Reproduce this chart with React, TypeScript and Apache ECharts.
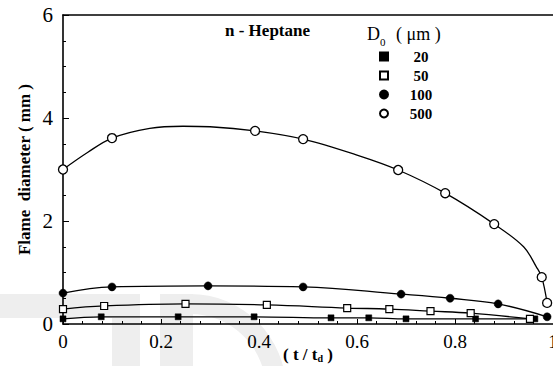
import React, { useEffect, useRef } from 'react';
import * as echarts from 'echarts';

const FONT = "'Liberation Serif', 'Times New Roman', Times, serif";

// D0 = 20 µm (filled squares)
const t20 = [0, 0.078, 0.235, 0.39, 0.547, 0.624, 0.7, 0.842, 0.963];
const d20 = [0.1, 0.14, 0.14, 0.14, 0.12, 0.12, 0.1, 0.1, 0.1];
// D0 = 50 µm (open squares)
const t50 = [0, 0.084, 0.25, 0.416, 0.58, 0.666, 0.75, 0.832, 0.953];
const d50 = [0.29, 0.35, 0.39, 0.37, 0.31, 0.29, 0.25, 0.21, 0.1];
// D0 = 100 µm (filled circles)
const t100 = [0, 0.1, 0.296, 0.49, 0.69, 0.79, 0.888, 0.988];
const d100 = [0.6, 0.72, 0.74, 0.72, 0.58, 0.5, 0.39, 0.14];
// D0 = 500 µm (open circles)
const t500 = [0, 0.1, 0.392, 0.49, 0.684, 0.78, 0.88, 0.977, 0.988];
const d500 = [3.0, 3.61, 3.75, 3.59, 2.99, 2.54, 1.94, 0.91, 0.41];
// fitted curve for 500 µm
const t500Fit = [0, 0.05, 0.1, 0.177, 0.245, 0.3, 0.392, 0.49, 0.6, 0.684, 0.78, 0.88, 0.94, 0.966, 0.977, 0.988];
const d500Fit = [3.0, 3.33, 3.61, 3.8, 3.84, 3.83, 3.75, 3.59, 3.28, 2.99, 2.54, 1.94, 1.5, 1.11, 0.91, 0.41];

const legendNames = ['20', '50', '100', '500'];

const pairs = (xs: number[], ys: number[]) => xs.map((x, i) => [x, ys[i]]);

export default function App() {
  const ref = useRef<HTMLDivElement>(null);
  useEffect(() => {
    const chart = echarts.init(ref.current!, null, { renderer: 'svg' });
    const lineBase = {
      type: 'line',
      showSymbol: false,
      symbol: 'none',
      smooth: 0.4,
      lineStyle: { color: '#000', width: 1.3 },
      silent: true,
      z: 2,
    };
    const gray = '#eeeeee';
    chart.setOption({
      animation: false,
      backgroundColor: '#fff',
      grid: { left: 63, right: 0, top: 15, bottom: 42, outerBoundsMode: 'none', containLabel: false },
      title: {
        text: 'n - Heptane',
        left: 225,
        top: 22,
        padding: 0,
        textStyle: { fontFamily: FONT, fontWeight: 'bold', fontSize: 17, color: '#000' },
      },
      legend: {
        data: legendNames,
        orient: 'vertical',
        left: 379,
        top: 49,
        padding: 0,
        itemWidth: 8,
        itemHeight: 8,
        itemGap: 4,
        selectedMode: false,
        formatter: (n: string) => `{a|${n}}`,
        textStyle: {
          rich: {
            a: { fontFamily: FONT, fontWeight: 'bold', fontSize: 15, color: '#000', width: 56, align: 'center', lineHeight: 16 },
          },
        },
      },
      graphic: [
        { type: 'rect', z: -1, silent: true, shape: { x: 0, y: 294, width: 140, height: 24 }, style: { fill: gray } },
        { type: 'rect', z: -1, silent: true, shape: { x: 112, y: 294, width: 28, height: 72 }, style: { fill: gray } },
        { type: 'rect', z: -1, silent: true, shape: { x: 160, y: 294, width: 33, height: 72 }, style: { fill: gray } },
        { type: 'rect', z: -1, silent: true, shape: { x: 160, y: 294, width: 32, height: 20 }, style: { fill: gray } },
        { type: 'sector', z: -1, silent: true, shape: { cx: 190, cy: 390, r0: 76, r: 96, startAngle: -Math.PI / 2, endAngle: 0 }, style: { fill: gray } },
        { type: 'text', left: 367, top: 25, style: { text: 'D', font: `18px ${FONT}`, fill: '#000' } },
        { type: 'text', left: 380, top: 36, style: { text: '0', font: `11px ${FONT}`, fill: '#000' } },
        { type: 'text', left: 396, top: 25, style: { text: '( μm )', font: `18px ${FONT}`, fill: '#000' } },
      ],
      xAxis: [
        {
          type: 'value',
          min: 0,
          max: 1,
          interval: 0.2,
          axisLine: { show: true, onZero: false, lineStyle: { color: '#000', width: 1.6 } },
          axisTick: { show: true, inside: true, length: 5, lineStyle: { color: '#000', width: 1 } },
          minorTick: { show: true, splitNumber: 5, length: 3, lineStyle: { color: '#000', width: 1 } },
          splitLine: { show: false },
          axisLabel: { color: '#000', fontSize: 19, fontFamily: FONT, margin: 8 },
          name: '( t / t{s|d} )',
          nameLocation: 'middle',
          nameGap: 22,
          nameMoveOverlap: false,
          nameTextStyle: {
            fontFamily: FONT,
            fontWeight: 'bold',
            fontSize: 17,
            color: '#000',
            rich: {
              s: { fontFamily: FONT, fontWeight: 'bold', fontSize: 10, color: '#000', verticalAlign: 'bottom', padding: [6, 0, 0, 0] },
            },
          },
        },
        {
          type: 'value',
          position: 'top',
          min: 0,
          max: 1,
          axisLine: { show: true, onZero: false, lineStyle: { color: '#000', width: 1.6 } },
          axisTick: { show: false },
          axisLabel: { show: false },
          splitLine: { show: false },
        },
      ],
      yAxis: {
        type: 'value',
        min: 0,
        max: 6,
        interval: 2,
        axisLine: { show: true, onZero: false, lineStyle: { color: '#000', width: 1.6 } },
        axisTick: { show: true, inside: true, length: 6, lineStyle: { color: '#000', width: 1 } },
        minorTick: { show: true, splitNumber: 4, length: 3, lineStyle: { color: '#000', width: 1 } },
        splitLine: { show: false },
        axisLabel: { color: '#000', fontSize: 21, fontFamily: FONT, margin: 10 },
        name: 'Flame  diameter ( mm )',
        nameLocation: 'middle',
        nameGap: 30,
        nameMoveOverlap: false,
        nameTextStyle: { fontFamily: FONT, fontWeight: 'bold', fontSize: 17, color: '#000' },
      },
      series: [
        { ...lineBase, name: 'fit20', data: pairs(t20, d20) },
        { ...lineBase, name: 'fit50', data: pairs(t50, d50) },
        { ...lineBase, name: 'fit100', data: pairs(t100, d100) },
        { ...lineBase, name: 'fit500', data: pairs(t500Fit, d500Fit), smooth: 0.35 },
        {
          type: 'scatter', name: '20', symbol: 'rect', symbolSize: 6, z: 3,
          itemStyle: { color: '#000', borderColor: '#000', borderWidth: 0.5, opacity: 1 },
          data: pairs(t20, d20),
        },
        {
          type: 'scatter', name: '50', symbol: 'rect', symbolSize: 7, z: 3,
          itemStyle: { color: '#fff', borderColor: '#000', borderWidth: 1.2, opacity: 1 },
          data: pairs(t50, d50),
        },
        {
          type: 'scatter', name: '100', symbol: 'circle', symbolSize: 8, z: 3,
          itemStyle: { color: '#000', borderColor: '#000', borderWidth: 0.5, opacity: 1 },
          data: pairs(t100, d100),
        },
        {
          type: 'scatter', name: '500', symbol: 'circle', symbolSize: 9, z: 3,
          itemStyle: { color: '#fff', borderColor: '#000', borderWidth: 1.3, opacity: 1 },
          data: pairs(t500, d500),
        },
      ],
    });
    return () => chart.dispose();
  }, []);
  return (
    <div
      ref={ref}
      style={{ position: 'fixed', left: 0, top: 0, width: 553, height: 366, background: '#fff' }}
    />
  );
}
